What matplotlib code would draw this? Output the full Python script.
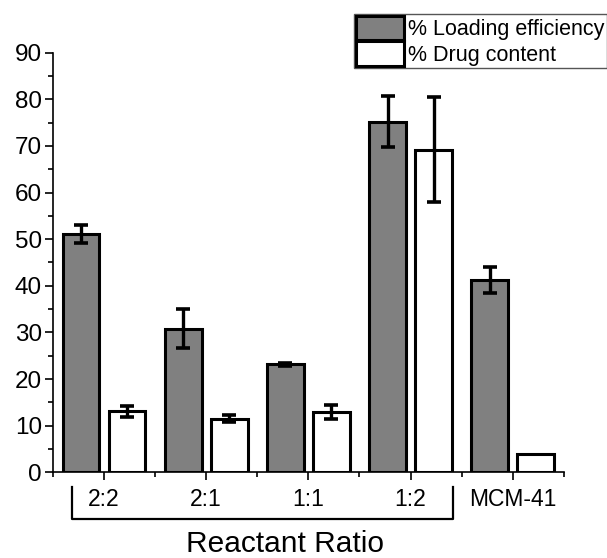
import numpy as np
import matplotlib
matplotlib.use("Agg")
import matplotlib.pyplot as plt
from matplotlib.ticker import MultipleLocator, FixedLocator

plt.rcParams["font.family"] = ["Liberation Sans", "DejaVu Sans"]

# Data
categories = ["2:2", "2:1", "1:1", "1:2", "MCM-41"]
loading = [51.1, 30.8, 23.2, 75.2, 41.3]
loading_err = [2.0, 4.2, 0.3, 5.5, 2.8]
drug = [13.1, 11.5, 13.0, 69.2, 4.0]
drug_err = [1.2, 0.8, 1.5, 11.3, 0.0]
series_labels = ["% Loading efficiency", "% Drug content"]
group_label = "Reactant Ratio"

fig = plt.figure(figsize=(6.07, 5.58), dpi=100)
ax = fig.add_axes([0.0873, 0.1536, 0.8415, 0.752])

x = np.arange(len(categories))
width = 0.36
offset = 0.225


def draw_series(xpos, vals, errs, color, label):
    ax.bar(xpos, vals, width, color=color, edgecolor="black", linewidth=2.2,
           label=label, zorder=2)
    vals = np.asarray(vals)
    errs = np.asarray(errs)
    has_err = errs > 0
    ax.errorbar(xpos[has_err], vals[has_err], yerr=errs[has_err], fmt="none",
                ecolor="black", elinewidth=2.4, capsize=5, capthick=2.6,
                zorder=3)


draw_series(x - offset, loading, loading_err, "#808080", series_labels[0])
draw_series(x + offset, drug, drug_err, "white", series_labels[1])

ax.set_xlim(-0.5, len(categories) - 0.5)
ax.set_ylim(0, 90)

for side in ["top", "right"]:
    ax.spines[side].set_visible(False)
for side in ["left", "bottom"]:
    ax.spines[side].set_linewidth(1.2)

ax.yaxis.set_major_locator(MultipleLocator(10))
ax.yaxis.set_minor_locator(MultipleLocator(5))
ax.set_xticks(x)
ax.set_xticklabels(categories)
ax.xaxis.set_minor_locator(FixedLocator(np.arange(-0.5, len(categories), 1.0)))
ax.tick_params(axis="both", which="major", direction="out", length=6,
               width=1.2)
ax.tick_params(axis="both", which="minor", direction="out", length=3.5,
               width=1.2)
ax.tick_params(axis="y", pad=2, labelsize=17.5)
ax.tick_params(axis="x", pad=5, labelsize=16.5)

# bracket grouping the reactant ratios
tr = ax.get_xaxis_transform()
bx0, bx1 = -0.314, 3.414
by0, by1 = -0.035, -0.111
ax.plot([bx0, bx0, bx1, bx1], [by0, by1, by1, by0], color="black",
        linewidth=1.6, transform=tr, clip_on=False)
ax.text(1.77, -0.19, group_label, transform=tr, ha="center", va="baseline",
        fontsize=21.5)

leg = ax.legend(loc="upper right", bbox_to_anchor=(1.0, 0.975),
                bbox_transform=fig.transFigure, borderaxespad=0,
                fontsize=15.5, handlelength=2.25, handleheight=1.35,
                handletextpad=0.2, labelspacing=0.05, borderpad=0.1,
                fancybox=False, framealpha=1)
leg.get_frame().set_edgecolor("#555555")
leg.get_frame().set_linewidth(1.0)

fig.savefig("out.png", dpi=100)
